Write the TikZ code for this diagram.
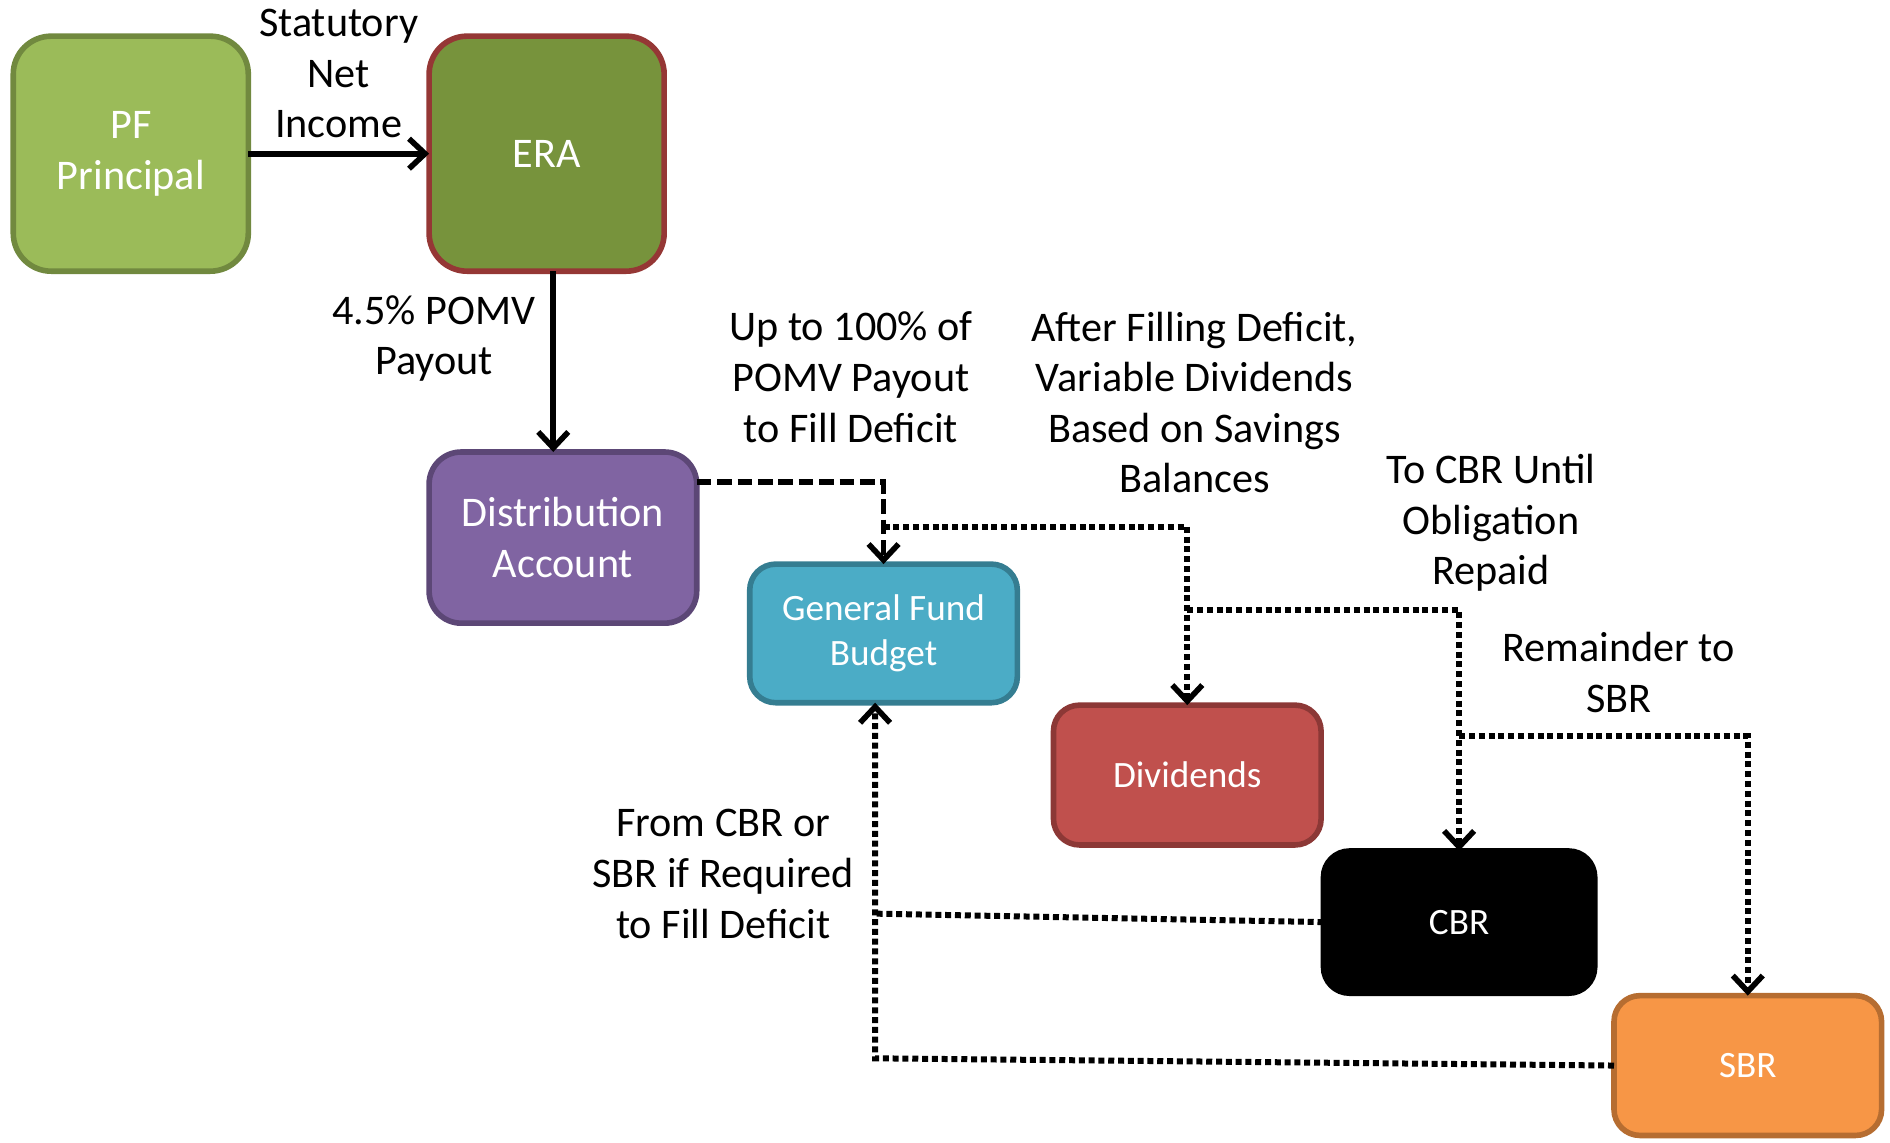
\documentclass[tikz,border=0pt]{standalone}
\usepackage{fontspec}
\setmainfont{Carlito}
\usetikzlibrary{arrows.meta}
\definecolor{pffill}{HTML}{9BBB59}\definecolor{pfdraw}{HTML}{71893F}
\definecolor{erafill}{HTML}{77933C}\definecolor{eradraw}{HTML}{953735}
\definecolor{distfill}{HTML}{8064A2}\definecolor{distdraw}{HTML}{5C4776}
\definecolor{gfbfill}{HTML}{4BACC6}\definecolor{gfbdraw}{HTML}{357D91}
\definecolor{divfill}{HTML}{C0504D}\definecolor{divdraw}{HTML}{8C3836}
\definecolor{sbrfill}{HTML}{F79646}\definecolor{sbrdraw}{HTML}{B66D31}
\def\U{0.6027pt}
\tikzset{
  bigfont/.style={font=\fontsize{21.1pt}{25.3pt}\selectfont},
  smallfont/.style={font=\fontsize{18.6pt}{22.3pt}\selectfont},
  box/.style={rectangle, line width=2.8pt, inner sep=0pt, outer sep=0pt,
    text=white, align=center},
  lbl/.style={bigfont, align=center, text=black, inner sep=0pt},
  tip/.style={-{Straight Barb[length=8pt,width=15pt,line width=2.8pt]}},
  solidline/.style={line width=3pt},
  dashline/.style={line width=2.9pt, dash pattern=on 7.3pt off 2.9pt},
  dotline/.style={line width=3pt, dash pattern=on 3pt off 1.9pt},
}
\begin{document}
\begin{tikzpicture}[x=0.6027pt, y=-0.6027pt]
\useasboundingbox (0,0) rectangle (1568,948.2);
% boxes
\node[box, bigfont, fill=pffill, draw=pfdraw, rounded corners=19pt,
  minimum width=195*\U, minimum height=195*\U] (pf) at (108.5,127.5) {PF\\Principal};
\node[box, bigfont, fill=erafill, draw=eradraw, rounded corners=19pt,
  minimum width=195*\U, minimum height=195*\U] (era) at (453.5,127.5) {ERA};
\node[box, bigfont, fill=distfill, draw=distdraw, rounded corners=16pt,
  minimum width=222*\U, minimum height=142*\U] (dist) at (467,446) {Distribution\\Account};
\node[box, smallfont, fill=gfbfill, draw=gfbdraw, rounded corners=13pt,
  minimum width=222*\U, minimum height=115*\U] (gfb) at (733,525.5) {General Fund\\Budget};
\node[box, smallfont, fill=divfill, draw=divdraw, rounded corners=13pt,
  minimum width=222*\U, minimum height=116*\U] (div) at (985,643) {Dividends};
\node[box, smallfont, fill=black, draw=black, rounded corners=13pt,
  minimum width=225*\U, minimum height=118*\U] (cbr) at (1210.5,765) {CBR};
\node[box, smallfont, fill=sbrfill, draw=sbrdraw, rounded corners=13pt,
  minimum width=222*\U, minimum height=116*\U] (sbr) at (1450,884) {SBR};
% labels
\node[lbl] (lstat) at (281,61) {Statutory\\Net\\Income};
\node[lbl] (lpomv) at (360,281) {4.5\% POMV\\Payout};
\node[lbl] (lupto) at (706,313) {Up to 100\% of\\POMV Payout\\to Fill Deficit};
\node[lbl] (lafter) at (991,334) {After Filling Deficit,\\Variable Dividends\\Based on Savings\\Balances};
\node[lbl] (ltocbr) at (1237,434) {To CBR Until\\Obligation\\Repaid};
\node[lbl] (lrem) at (1343,558) {Remainder to\\SBR};
\node[lbl] (lfrom) at (600,725) {From CBR or\\SBR if Required\\to Fill Deficit};
% connectors
\draw[solidline, tip] (pf.east) -- (era.west);
\coordinate (v) at (459,0);
\draw[solidline, tip] (era.south -| v) -- (dist.north -| v);
\coordinate (d1) at (733,400);
\draw[dashline, tip] (d1 -| dist.east) -- (d1) -- (gfb.north);
\coordinate (a1) at (733,437);
\draw[dotline, tip] (a1) -- (a1 -| div.north) -- (div.north);
\coordinate (a2) at (985,506);
\draw[dotline, tip] (a2) -- (a2 -| cbr.north) -- (cbr.north);
\coordinate (a3) at (1210.5,611);
\draw[dotline, tip] (a3) -- (a3 -| sbr.north) -- (sbr.north);
\coordinate (b1) at (727,758);
\draw[dotline] (cbr.west) -- (b1);
\coordinate (b2) at (726,878);
\draw[dotline, tip] (sbr.west) -- (b2) -- (b2 |- gfb.south);
\end{tikzpicture}
\end{document}
